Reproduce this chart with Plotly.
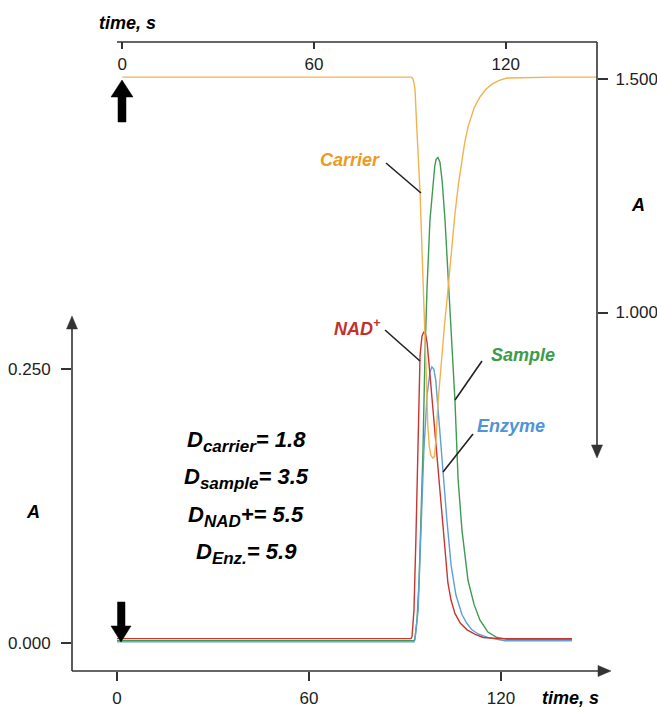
import plotly.graph_objects as go

W, H = 657, 708

# ---------------- data ----------------
# Carrier (top time axis, right A axis)
carrier_t = [0, 60, 90.5, 91.0, 91.6, 92.2, 93.2, 93.8, 94.4, 95.1, 95.6, 96.1, 96.6, 97.2, 97.7, 98.2,
             98.8, 99.5, 100.1, 100.8, 101.6, 102.9, 104.1, 105.2, 106.3, 107.2, 108.2, 110.1, 111.9,
             113.8, 115.7, 118.0, 120.4, 135.0, 148.6]
carrier_a = [1.504, 1.504, 1.504, 1.500, 1.480, 1.391, 1.256, 1.134, 1.027, 0.877, 0.760, 0.712, 0.694,
             0.688, 0.692, 0.730, 0.806, 0.870, 0.920, 0.970, 1.025, 1.123, 1.210, 1.275, 1.327, 1.365,
             1.397, 1.438, 1.461, 1.478, 1.489, 1.497, 1.502, 1.504, 1.504]

# Sample, NAD+, Enzyme (bottom time axis, left A axis)
sample_t = [0, 60, 92.8, 93.1, 93.75, 94.4, 95.0, 95.6, 96.25, 96.9, 97.8, 98.75, 99.3, 99.7, 100.3, 100.9,
            101.6, 102.5, 103.1, 104.1, 105.6, 106.6, 107.8, 109.7, 111.6, 113.4, 115.9, 118.75, 122.8, 142.2]
sample_a = [0.002, 0.002, 0.002, 0.004, 0.021, 0.057, 0.112, 0.173, 0.265, 0.325, 0.386, 0.422, 0.435, 0.441,
            0.443, 0.439, 0.422, 0.386, 0.356, 0.307, 0.222, 0.149, 0.103, 0.057, 0.035, 0.021, 0.010,
            0.005, 0.003, 0.003]

nad_t = [0, 60, 91.9, 92.2, 92.8, 93.4, 94.1, 94.7, 95.3, 95.9, 96.4, 96.9, 97.8, 98.75, 100.0, 101.25,
         102.5, 103.4, 104.4, 105.6, 107.3, 109.4, 111.8, 114.4, 119.7, 142.2]
nad_a = [0.004, 0.004, 0.004, 0.006, 0.030, 0.094, 0.203, 0.262, 0.280, 0.284, 0.282, 0.274, 0.245, 0.213,
         0.167, 0.130, 0.080, 0.055, 0.039, 0.027, 0.018, 0.012, 0.008, 0.005, 0.004, 0.004]

enzyme_t = [0, 60, 92.8, 93.1, 94.1, 95.0, 95.9, 96.9, 97.8, 98.4, 99.0, 99.6, 100.3, 101.25, 101.9, 103.1,
            104.4, 105.9, 107.8, 109.3, 110.9, 113.0, 115.9, 121.25, 142.2]
enzyme_a = [0.001, 0.001, 0.001, 0.003, 0.030, 0.103, 0.176, 0.226, 0.247, 0.252, 0.250, 0.240, 0.213,
            0.176, 0.156, 0.112, 0.071, 0.044, 0.026, 0.018, 0.012, 0.008, 0.005, 0.002, 0.002]

time_ticks = [0, 60, 120]
left_ticks = [0.0, 0.25]
left_ticktext = ["0.000", "0.250"]
right_ticks = [1.0, 1.5]
right_ticktext = ["1.000", "1.500"]

d_labels = ["D<sub><span style='font-size:17px'>carrier</span></sub>= 1.8",
            "D<sub><span style='font-size:17px'>sample</span></sub>= 3.5",
            "D<sub><span style='font-size:17px'>NAD</span></sub>+= 5.5",
            "D<sub><span style='font-size:17px'>Enz.</span></sub>= 5.9"]

# ---------------- styling ----------------
C_CAR, C_CAR_T = "#F3B250", "#EE9A22"
C_SAM, C_SAM_T = "#3F9A52", "#3E9B47"
C_NAD, C_NAD_T = "#C8362F", "#C4302B"
C_ENZ, C_ENZ_T = "#5E9FD8", "#4F93DA"
AX = "#333333"
NUMFONT = dict(family="Liberation Sans, Arial", size=17, color="#222")
LBL = "Liberation Sans, Arial"


def PX(x):
    return x / W


def PY(y):
    return 1 - y / H


fig = go.Figure()
fig.add_trace(go.Scatter(x=carrier_t, y=carrier_a, xaxis="x2", yaxis="y2", mode="lines",
                         line=dict(color=C_CAR, width=1.4),
                         hoverinfo="skip", showlegend=False))
fig.add_trace(go.Scatter(x=sample_t, y=sample_a, mode="lines",
                         line=dict(color=C_SAM, width=1.4),
                         hoverinfo="skip", showlegend=False))
fig.add_trace(go.Scatter(x=enzyme_t, y=enzyme_a, mode="lines",
                         line=dict(color=C_ENZ, width=1.4),
                         hoverinfo="skip", showlegend=False))
fig.add_trace(go.Scatter(x=nad_t, y=nad_a, mode="lines",
                         line=dict(color=C_NAD, width=1.4),
                         hoverinfo="skip", showlegend=False))

common = dict(showgrid=False, zeroline=False, showline=False, tickcolor=AX, tickwidth=1.5,
              tickfont=NUMFONT, fixedrange=True)

fig.update_layout(
    width=W, height=H, autosize=False,
    margin=dict(l=0, r=0, t=0, b=0, pad=0),
    paper_bgcolor="white", plot_bgcolor="rgba(0,0,0,0)",
    xaxis=dict(domain=[PX(72), PX(610)], range=[(72 - 117) / 3.2, (610 - 117) / 3.2], anchor="y",
               tickvals=time_ticks, ticks="outside", ticklen=9, ticklabelstandoff=3, **common),
    yaxis=dict(domain=[PY(671), 1], range=[(643 - 671) / 1096, 643 / 1096], anchor="x",
               tickvals=left_ticks, ticktext=left_ticktext, ticks="outside", ticklen=10,
               ticklabelstandoff=7, **common),
    xaxis2=dict(domain=[PX(60), PX(597)], range=[(60 - 122.3) / 3.195, (597 - 122.3) / 3.195],
                anchor="y2", side="top", tickvals=time_ticks, ticks="inside", ticklen=7,
                ticklabelposition="inside", ticklabelstandoff=10, **common),
    yaxis2=dict(domain=[PY(600), PY(42)], range=[1.5 - (600 - 79) / 467, 1.5 + (79 - 42) / 467],
                anchor="x2", side="right", tickvals=right_ticks, ticktext=right_ticktext,
                ticks="outside", ticklen=10, ticklabelstandoff=4, **common),
)

shapes = []


def line(x0, y0, x1, y1, color=AX, width=1.6):
    shapes.append(dict(type="line", xref="paper", yref="paper", x0=PX(x0), y0=PY(y0), x1=PX(x1), y1=PY(y1),
                       line=dict(color=color, width=width), layer="above"))


def poly(pts, color="black"):
    d = "M " + " L ".join(f"{PX(x):.5f},{PY(y):.5f}" for x, y in pts) + " Z"
    shapes.append(dict(type="path", xref="paper", yref="paper", path=d, fillcolor=color,
                       line=dict(color=color, width=0.5), layer="above"))


# axis lines with arrowheads
line(72, 671, 600, 671)
poly([(611, 671), (598, 665.5), (598, 676.5)], AX)
line(72, 671, 72, 328)
poly([(72, 316), (66.5, 329), (77.5, 329)], AX)
line(117, 42, 597, 42)
line(597, 42, 597, 446)
poly([(597, 458), (591.5, 445), (602.5, 445)], AX)

# thick injection arrows
poly([(122, 80), (111, 97), (118, 97), (118, 122), (126, 122), (126, 97), (133, 97)], "black")
poly([(121, 642), (111, 626), (117.5, 626), (117.5, 602), (125, 602), (125, 626), (131, 626)], "black")

# leader lines
line(386, 163, 421, 193, "#222", 1.6)
line(385, 330, 420, 361, "#222", 1.6)
line(482, 361, 455, 400, "#222", 1.6)
line(473, 434, 443, 472, "#222", 1.6)

fig.update_layout(shapes=shapes)

ann = []


def text(x, y, s, color="black", size=18, xanchor="center", font=LBL):
    ann.append(dict(x=PX(x), y=PY(y), xref="paper", yref="paper", text=s, showarrow=False,
                    xanchor=xanchor, yanchor="middle", font=dict(family=font, size=size, color=color)))


text(97, 23, "<b><i>time, s</i></b>", xanchor="left")
text(540, 698, "<b><i>time, s</i></b>", xanchor="left")
text(638, 205, "<b><i>A</i></b>")
text(33, 512, "<b><i>A</i></b>")
text(350, 160, "<b><i>Carrier</i></b>", C_CAR_T)
text(357, 327, "<b><i>NAD<sup>+</sup></i></b>", C_NAD_T)
text(523, 355, "<b><i>Sample</i></b>", C_SAM_T)
text(511, 426, "<b><i>Enzyme</i></b>", C_ENZ_T)
for i, s in enumerate(d_labels):
    text(246, 441 + 37.5 * i, "<b><i>" + s + "</i></b>", size=22)

fig.update_layout(annotations=ann)
fig.write_html("out.html")
